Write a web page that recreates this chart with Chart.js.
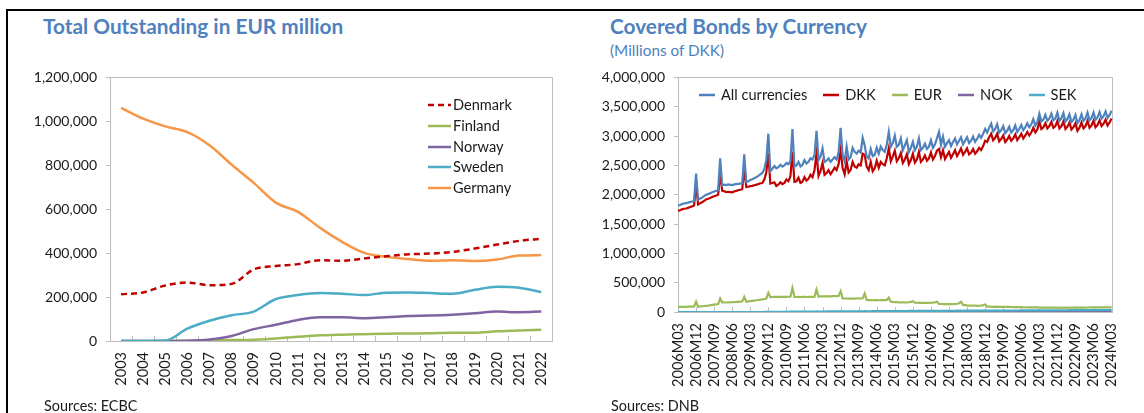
<!DOCTYPE html>
<html>
<head>
<meta charset="utf-8">
<script src="https://cdn.jsdelivr.net/npm/chart.js@4.4.1/dist/chart.umd.min.js"></script>
<style>
  html, body { margin: 0; padding: 0; background: #fff; }
  body { width: 1144px; height: 413px; position: relative; overflow: hidden; font-family: Lato, sans-serif; color: #1a1a1a; }
  .frame { position: absolute; left: 6px; top: 9px; width: 1140px; height: 410px; border-top: 2px solid #000; border-left: 2px solid #000; }
  .title { position: absolute; font-weight: bold; font-size: 20.8px; line-height: 22px; color: #4f81bd; white-space: nowrap; }
  .sub { position: absolute; font-size: 15.3px; line-height: 16px; color: #4f81bd; white-space: nowrap; }
  .src { position: absolute; font-size: 14.4px; line-height: 16px; white-space: nowrap; }
  canvas { position: absolute; }
  .legend { position: absolute; font-size: 14.6px; line-height: 16px; }
  .legend .item { display: flex; align-items: center; white-space: nowrap; }
  .legend svg { display: block; }
  #legendLeft .item { height: 20.7px; }
  #legendLeft .item span { margin-left: 2px; }
  #legendRight { display: flex; }
  #legendRight .item { margin-right: 16px; }
  #legendRight .item span { margin-left: 6px; }
</style>
</head>
<body>
<div class="frame"></div>

<div class="title" style="left:43px; top:15px;">Total Outstanding in EUR million</div>
<canvas id="leftChart" width="570" height="345" style="left:0; top:60px;"></canvas>
<div class="legend" id="legendLeft" style="left:428px; top:95px;"></div>
<div class="src" style="left:44px; top:398px;">Sources: ECBC</div>

<div class="title" style="left:610px; top:15px;">Covered Bonds by Currency</div>
<div class="sub" style="left:610px; top:42px;">(Millions of DKK)</div>
<canvas id="rightChart" width="565" height="345" style="left:575px; top:60px;"></canvas>
<div class="legend" id="legendRight" style="left:699px; top:87px;"></div>
<div class="src" style="left:611px; top:398px;">Sources: DNB</div>

<script>
// ---- left chart: outstanding covered bonds, EUR million ----
const years = ['2003', '2004', '2005', '2006', '2007', '2008', '2009', '2010', '2011', '2012',
  '2013', '2014', '2015', '2016', '2017', '2018', '2019', '2020', '2021', '2022'];

const denmark = [213000, 221000, 253000, 266000, 254000, 260000, 326000, 341000, 350000, 368000,
  365000, 376000, 386000, 395000, 398000, 406000, 421000, 439000, 456000, 465000];
const finland = [0, 0, 0, 1000, 2000, 4000, 6000, 11000, 19000, 26000,
  29000, 31000, 33000, 34000, 35000, 37000, 38000, 44000, 48000, 51000];
const norway = [0, 0, 0, 1000, 7000, 23000, 54000, 74000, 96000, 108000,
  108000, 104000, 108000, 114000, 116000, 120000, 126000, 134000, 131000, 134000];
const sweden = [0, 0, 2000, 56000, 92000, 117000, 134000, 191000, 209000, 218000,
  215000, 209000, 220000, 221000, 218000, 215000, 233000, 247000, 242000, 223000];
const germany = [1061000, 1012000, 977000, 951000, 891000, 803000, 720000, 630000, 588000, 515000,
  451000, 401000, 383000, 373000, 365000, 368000, 364000, 371000, 389000, 391000];

// ---- right chart: covered bonds by currency, DKK million, monthly 2006M03-2024M03 ----
const firstYear = 2006, firstMonth = 3, monthCount = 217;
const months = [];
for (let i = 0; i < monthCount; i++) {
  const m = firstMonth - 1 + i;
  months.push((firstYear + Math.floor(m / 12)) + 'M' + String(m % 12 + 1).padStart(2, '0'));
}

const allCurrencies = [
  1815000, 1825000, 1840000, 1850000, 1855000, 1865000, 1875000, 1885000, 1895000, 2360000, // 2006 Mar-Dec
  1915000, 1935000, 1950000, 1975000, 2000000, 2010000, 2025000, 2040000, 2055000, 2065000, 2080000, 2620000,
  2160000, 2170000, 2165000, 2175000, 2170000, 2165000, 2175000, 2180000, 2185000, 2190000, 2195000, 2690000,
  2215000, 2230000, 2250000, 2265000, 2280000, 2300000, 2320000, 2345000, 2370000, 2440000, 2590000, 3040000,
  2400000, 2440000, 2490000, 2450000, 2470000, 2510000, 2480000, 2500000, 2540000, 2520000, 2570000, 3120000,
  2480000, 2500000, 2560000, 2480000, 2510000, 2590000, 2530000, 2560000, 2620000, 2600000, 2680000, 3090000,
  2590000, 2650000, 2790000, 2560000, 2580000, 2620000, 2560000, 2600000, 2640000, 2600000, 2720000, 3140000,
  2680000, 2570000, 2820000, 2600000, 2640000, 2800000, 2730000, 2700000, 2750000, 2720000, 2970000, 2840000,
  2650000, 2620000, 2780000, 2660000, 2680000, 2800000, 2700000, 2820000, 2760000, 2730000, 2850000, 3070000,
  2820000, 2880000, 3010000, 2820000, 2850000, 2960000, 2760000, 2840000, 2930000, 2730000, 2800000, 2900000,
  2760000, 2820000, 2960000, 2760000, 2800000, 2870000, 2780000, 2820000, 2930000, 2800000, 2860000, 2960000,
  3070000, 2850000, 2990000, 2820000, 2880000, 2930000, 2830000, 2900000, 2960000, 2860000, 2920000, 2980000,
  2860000, 2920000, 2980000, 2880000, 2920000, 2990000, 2900000, 2950000, 3020000, 2970000, 3040000, 3120000,
  3060000, 3140000, 3210000, 3080000, 3120000, 3200000, 3060000, 3100000, 3170000, 3050000, 3090000, 3160000,
  3060000, 3100000, 3180000, 3070000, 3120000, 3190000, 3100000, 3150000, 3220000, 3150000, 3200000, 3290000,
  3180000, 3240000, 3380000, 3250000, 3280000, 3360000, 3260000, 3300000, 3380000, 3270000, 3300000, 3400000,
  3260000, 3300000, 3390000, 3250000, 3290000, 3370000, 3240000, 3280000, 3360000, 3220000, 3270000, 3370000,
  3260000, 3300000, 3400000, 3270000, 3310000, 3400000, 3280000, 3320000, 3410000, 3300000, 3340000, 3420000,
  3310000, 3360000, 3430000 // 2024 Jan-Mar
];

const dkk = [
  1725000, 1735000, 1750000, 1760000, 1765000, 1775000, 1790000, 1800000, 1815000, 2190000,
  1835000, 1855000, 1870000, 1895000, 1920000, 1930000, 1945000, 1960000, 1975000, 1985000, 2000000, 2380000,
  2070000, 2060000, 2045000, 2050000, 2045000, 2040000, 2055000, 2065000, 2075000, 2085000, 2095000, 2450000,
  2130000, 2135000, 2145000, 2150000, 2160000, 2170000, 2180000, 2195000, 2200000, 2260000, 2380000, 2710000,
  2190000, 2200000, 2210000, 2150000, 2170000, 2210000, 2180000, 2200000, 2260000, 2230000, 2310000, 2730000,
  2220000, 2230000, 2290000, 2200000, 2220000, 2300000, 2240000, 2270000, 2340000, 2300000, 2420000, 2710000,
  2320000, 2400000, 2540000, 2340000, 2370000, 2420000, 2350000, 2400000, 2460000, 2420000, 2520000, 2760000,
  2460000, 2350000, 2570000, 2380000, 2420000, 2560000, 2480000, 2460000, 2520000, 2500000, 2700000, 2680000,
  2480000, 2420000, 2560000, 2400000, 2450000, 2580000, 2460000, 2560000, 2520000, 2500000, 2620000, 2790000,
  2570000, 2650000, 2750000, 2570000, 2620000, 2710000, 2540000, 2600000, 2690000, 2520000, 2590000, 2700000,
  2550000, 2600000, 2730000, 2560000, 2600000, 2670000, 2580000, 2620000, 2720000, 2600000, 2660000, 2750000,
  2780000, 2640000, 2760000, 2610000, 2670000, 2730000, 2630000, 2690000, 2760000, 2660000, 2720000, 2790000,
  2680000, 2730000, 2790000, 2690000, 2720000, 2780000, 2700000, 2740000, 2800000, 2760000, 2830000, 2920000,
  2900000, 2980000, 3040000, 2930000, 2970000, 3040000, 2910000, 2950000, 3010000, 2900000, 2940000, 3000000,
  2920000, 2960000, 3030000, 2930000, 2980000, 3040000, 2960000, 3010000, 3070000, 3010000, 3060000, 3140000,
  3060000, 3110000, 3250000, 3120000, 3150000, 3220000, 3130000, 3170000, 3240000, 3140000, 3170000, 3260000,
  3130000, 3170000, 3250000, 3120000, 3160000, 3230000, 3110000, 3150000, 3220000, 3090000, 3140000, 3230000,
  3130000, 3170000, 3260000, 3140000, 3180000, 3260000, 3150000, 3190000, 3270000, 3170000, 3210000, 3280000,
  3180000, 3230000, 3300000
];

const eur = [
  85000, 86000, 87000, 88000, 89000, 90000, 91000, 92000, 93000, 175000,
  92000, 95000, 98000, 102000, 106000, 110000, 115000, 120000, 125000, 130000, 135000, 230000,
  165000, 163000, 162000, 164000, 166000, 168000, 170000, 172000, 174000, 176000, 178000, 258000,
  175000, 180000, 185000, 190000, 195000, 200000, 205000, 210000, 215000, 222000, 230000, 326000,
  255000, 256000, 258000, 257000, 258000, 259000, 258000, 258000, 259000, 260000, 262000, 410000,
  258000, 256000, 258000, 255000, 257000, 258000, 256000, 258000, 260000, 259000, 262000, 382000,
  262000, 265000, 268000, 266000, 268000, 270000, 268000, 270000, 272000, 270000, 274000, 354000,
  232000, 230000, 230000, 228000, 229000, 230000, 228000, 230000, 232000, 230000, 235000, 315000,
  205000, 202000, 202000, 200000, 201000, 202000, 200000, 201000, 202000, 203000, 205000, 247000,
  176000, 172000, 170000, 167000, 165000, 163000, 165000, 163000, 162000, 166000, 172000, 185000,
  160000, 158000, 157000, 157000, 156000, 157000, 156000, 157000, 158000, 160000, 165000, 174000,
  138000, 136000, 135000, 135000, 134000, 135000, 134000, 135000, 136000, 140000, 150000, 174000,
  120000, 116000, 112000, 110000, 108000, 107000, 107000, 106000, 107000, 110000, 118000, 129000,
  92000, 90000, 90000, 89000, 90000, 89000, 88000, 89000, 88000, 87000, 87000, 86000,
  85000, 84000, 84000, 83000, 82000, 82000, 81000, 81000, 80000, 80000, 79000, 79000,
  78000, 78000, 77000, 76000, 76000, 75000, 75000, 74000, 74000, 74000, 73000, 73000,
  73000, 72000, 73000, 73000, 72000, 73000, 74000, 74000, 78000, 75000, 74000, 75000,
  76000, 76000, 77000, 77000, 78000, 78000, 78000, 79000, 79000, 79000, 80000, 80000,
  79000, 80000, 80000
];

const nok = [
  0, 0, 0, 0, 0, 0, 0, 0, 0, 0,
  0, 0, 0, 0, 0, 0, 0, 0, 0, 0, 0, 0,
  0, 0, 0, 0, 0, 0, 0, 0, 0, 0, 0, 0,
  0, 0, 0, 0, 0, 0, 0, 0, 0, 0, 0, 0,
  0, 0, 0, 0, 0, 0, 0, 0, 0, 0, 0, 0,
  0, 0, 0, 0, 0, 0, 0, 0, 0, 0, 0, 0,
  0, 0, 0, 0, 0, 0, 0, 0, 0, 0, 0, 0,
  0, 0, 0, 0, 0, 0, 0, 0, 0, 0, 0, 0,
  0, 0, 0, 0, 0, 0, 0, 0, 0, 0, 0, 0,
  0, 0, 0, 0, 0, 0, 0, 0, 0, 0, 0, 0,
  0, 0, 0, 0, 0, 0, 1000, 1000, 1000, 1000, 2000, 2000,
  2000, 2000, 2000, 3000, 3000, 3000, 3000, 3000, 4000, 4000, 4000, 4000,
  4000, 4000, 4000, 5000, 5000, 5000, 5000, 5000, 5000, 6000, 6000, 6000,
  6000, 6000, 6000, 6000, 7000, 7000, 7000, 7000, 7000, 7000, 7000, 7000,
  7000, 7000, 7000, 7000, 8000, 8000, 8000, 8000, 8000, 8000, 8000, 8000,
  8000, 8000, 8000, 8000, 8000, 8000, 9000, 9000, 9000, 9000, 9000, 9000,
  9000, 9000, 9000, 9000, 9000, 9000, 9000, 9000, 9000, 9000, 9000, 9000,
  9000, 9000, 9000, 9000, 9000, 9000, 9000, 9000, 9000, 9000, 9000, 9000,
  9000, 9000, 9000
];

const sek = [
  0, 0, 0, 0, 0, 0, 0, 0, 0, 0,
  0, 0, 0, 0, 0, 0, 0, 0, 0, 0, 0, 0,
  0, 0, 0, 0, 0, 0, 0, 0, 0, 0, 0, 0,
  0, 0, 0, 0, 0, 0, 0, 0, 0, 1000, 2000, 2000,
  2000, 2000, 2000, 3000, 3000, 3000, 3000, 4000, 4000, 4000, 5000, 6000,
  5000, 5000, 5000, 6000, 6000, 6000, 6000, 7000, 7000, 7000, 8000, 9000,
  7000, 8000, 8000, 8000, 9000, 9000, 9000, 9000, 10000, 10000, 11000, 13000,
  10000, 11000, 11000, 11000, 11000, 12000, 12000, 12000, 13000, 13000, 13000, 15000,
  13000, 13000, 13000, 14000, 14000, 14000, 14000, 15000, 15000, 15000, 16000, 17000,
  15000, 16000, 16000, 16000, 16000, 17000, 17000, 17000, 17000, 18000, 18000, 19000,
  17000, 18000, 18000, 18000, 18000, 19000, 19000, 19000, 19000, 20000, 20000, 21000,
  19000, 20000, 20000, 20000, 20000, 21000, 21000, 21000, 21000, 22000, 22000, 23000,
  21000, 22000, 22000, 22000, 22000, 23000, 23000, 23000, 23000, 24000, 24000, 24000,
  23000, 24000, 24000, 24000, 24000, 25000, 25000, 25000, 25000, 26000, 26000, 26000,
  25000, 26000, 26000, 26000, 26000, 27000, 27000, 27000, 27000, 28000, 28000, 28000,
  27000, 28000, 28000, 28000, 28000, 29000, 29000, 29000, 29000, 30000, 30000, 30000,
  29000, 30000, 30000, 30000, 30000, 31000, 31000, 31000, 31000, 32000, 32000, 32000,
  31000, 32000, 32000, 32000, 32000, 33000, 33000, 33000, 33000, 34000, 34000, 34000,
  33000, 34000, 34000
];

Chart.defaults.font.family = 'Lato';
Chart.defaults.font.size = 14;
Chart.defaults.color = '#1a1a1a';

// plot border plus small inward tick marks on the category axis
const axisMarks = {
  id: 'axisMarks',
  beforeDatasetsDraw(chart, args, opts) {
    const { ctx, chartArea: a } = chart;
    const xs = chart.scales.x;
    ctx.save();
    ctx.strokeStyle = '#bfbfbf';
    ctx.lineWidth = 1;
    ctx.strokeRect(Math.round(a.left) + 0.5, Math.round(a.top) + 0.5,
      Math.round(a.right - a.left), Math.round(a.bottom - a.top));
    const step = xs.getPixelForValue(1) - xs.getPixelForValue(0);
    ctx.beginPath();
    for (let i = 0; i < chart.data.labels.length; i += opts.every) {
      let x = xs.getPixelForValue(i);
      if (opts.between) x -= step / 2;
      x = Math.round(x) + 0.5;
      ctx.moveTo(x, a.bottom);
      ctx.lineTo(x, a.bottom - opts.len);
    }
    ctx.stroke();
    ctx.restore();
  }
};

function yAxis(max, step, width) {
  return {
    min: 0, max: max,
    afterFit(s) { s.width = width; },
    border: { display: false },
    grid: { drawOnChartArea: false, drawTicks: true, tickLength: 4, color: '#bfbfbf' },
    ticks: { stepSize: step, padding: 9, callback: v => v.toLocaleString('en-US') }
  };
}

const leftSeries = [
  { label: 'Denmark', data: denmark, color: '#c00000', dash: [6, 4], order: 0 },
  { label: 'Finland', data: finland, color: '#9bbb59', order: 2 },
  { label: 'Norway', data: norway, color: '#8064a2', order: 1 },
  { label: 'Sweden', data: sweden, color: '#4bacc6', order: 0 },
  { label: 'Germany', data: germany, color: '#f79646', order: 0 }
];

new Chart(document.getElementById('leftChart'), {
  type: 'line',
  data: {
    labels: years,
    datasets: leftSeries.map(s => ({
      label: s.label, data: s.data, order: s.order,
      borderColor: s.color, backgroundColor: s.color,
      borderWidth: 2.5, borderDash: s.dash || [],
      pointRadius: 0, cubicInterpolationMode: 'monotone', fill: false
    }))
  },
  options: {
    responsive: false, animation: false, devicePixelRatio: 1,
    layout: { padding: { left: 10, right: 15, top: 15, bottom: 4 } },
    scales: {
      x: {
        offset: true,
        afterFit(s) { s.height = 60; },
        border: { display: false },
        grid: { display: false, drawTicks: false },
        ticks: { autoSkip: false, minRotation: 90, maxRotation: 90, padding: 11, font: { size: 14.5 } }
      },
      y: yAxis(1200000, 200000, 100)
    },
    plugins: {
      legend: { display: false }, tooltip: { enabled: false },
      axisMarks: { every: 1, between: true, len: 5 }
    }
  },
  plugins: [axisMarks]
});

const rightSeries = [
  { label: 'All currencies', data: allCurrencies, color: '#4f81bd', order: 0 },
  { label: 'DKK', data: dkk, color: '#c00000', order: 0 },
  { label: 'EUR', data: eur, color: '#9bbb59', order: 0 },
  { label: 'NOK', data: nok, color: '#8064a2', order: 1 },
  { label: 'SEK', data: sek, color: '#4bacc6', order: 0 }
];

new Chart(document.getElementById('rightChart'), {
  type: 'line',
  data: {
    labels: months,
    datasets: rightSeries.map(s => ({
      label: s.label, data: s.data, order: s.order,
      borderColor: s.color, backgroundColor: s.color,
      borderWidth: 2.2, pointRadius: 0, tension: 0, fill: false
    }))
  },
  options: {
    responsive: false, animation: false, devicePixelRatio: 1,
    layout: { padding: { left: 3, right: 18, top: 15, bottom: 4 } },
    scales: {
      x: {
        afterFit(s) { s.height = 89; },
        border: { display: false },
        grid: { display: false, drawTicks: false },
        ticks: {
          autoSkip: false, minRotation: 90, maxRotation: 90, padding: 11, font: { size: 14.5 },
          callback(v, i) { return i % 9 === 0 ? this.getLabelForValue(v) : null; }
        }
      },
      y: yAxis(4000000, 500000, 100)
    },
    plugins: {
      legend: { display: false }, tooltip: { enabled: false },
      axisMarks: { every: 9, between: false, len: 5 }
    }
  },
  plugins: [axisMarks]
});

// html legends built from the series lists
function legendLine(color, w, dash) {
  const d = dash ? ` stroke-dasharray="${dash.join(',')}"` : '';
  return `<svg width="${w}" height="4"><line x1="0" y1="2" x2="${w}" y2="2" stroke="${color}" stroke-width="2.5"${d}/></svg>`;
}
document.getElementById('legendLeft').innerHTML = leftSeries.map(s =>
  `<div class="item">${legendLine(s.color, 23, s.dash)}<span>${s.label}</span></div>`).join('');
document.getElementById('legendRight').innerHTML = rightSeries.map(s =>
  `<div class="item">${legendLine(s.color, 16)}<span>${s.label}</span></div>`).join('');
</script>
</body>
</html>
